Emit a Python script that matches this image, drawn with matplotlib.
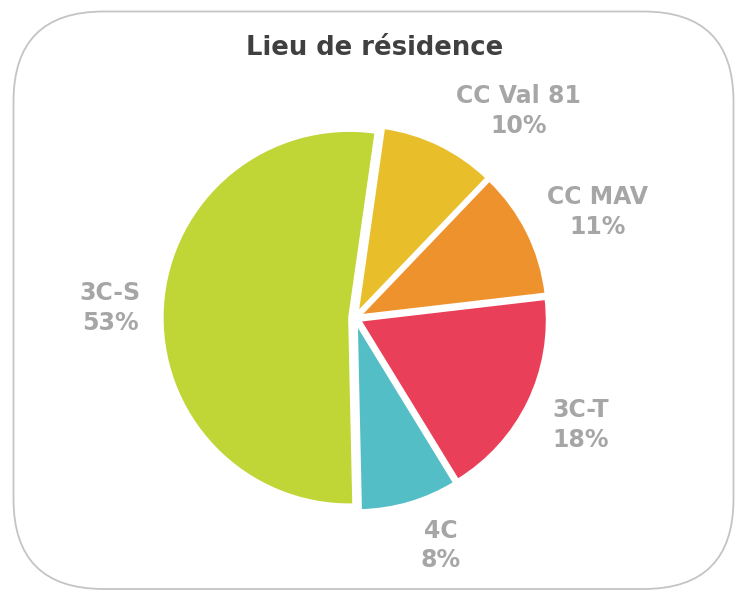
import matplotlib
matplotlib.use("Agg")
import matplotlib.pyplot as plt
from matplotlib.patches import FancyBboxPatch
import numpy as np

# Data
categories = ["CC Val 81", "CC MAV", "3C-T", "4C", "3C-S"]
values = [9.9, 11.0, 18.1, 8.4, 52.6]
colors = ["#e8bf2b", "#ee922d", "#ea3f58", "#53bec6", "#c0d536"]
title = "Lieu de résidence"

W, H = 735, 590
fig = plt.figure(figsize=(W / 100, H / 100), dpi=100)
fig.patch.set_facecolor("white")

# background axes in pixel units for the rounded frame
bg = fig.add_axes([0, 0, 1, 1], zorder=0)
bg.set_xlim(0, W)
bg.set_ylim(H, 0)
bg.axis("off")
frame = FancyBboxPatch((13.5, 11.5), 720, 577.5,
                       boxstyle="round,pad=0,rounding_size=90",
                       facecolor="white", edgecolor="#c4c4c4", linewidth=1.3)
bg.add_patch(frame)

R = 187.0
cx, cy = 355.0, H - 318.0
ax = fig.add_axes([0, 0, 1, 1], zorder=1)
ax.set_facecolor("none")

wedges, _ = ax.pie(values, colors=colors, startangle=81.9, counterclock=False,
                   explode=[0.03] * len(values),
                   wedgeprops=dict(edgecolor="white", linewidth=1.8))
ax.set_xlim(-cx / R, (W - cx) / R)
ax.set_ylim(-cy / R, (H - cy) / R)
ax.set_aspect("auto")
ax.axis("off")

# label placement (radial distance, angle offset from slice mid-angle)
label_dist = [1.41, 1.415, 1.335, 1.30, 1.31]
angle_off = [-12.4, -2.9, 0.6, 4.2, 1.0]
total = sum(values)
for w, cat, v, d, off in zip(wedges, categories, values, label_dist, angle_off):
    mid = np.deg2rad((w.theta1 + w.theta2) / 2 + off)
    ax.text(d * np.cos(mid), d * np.sin(mid), f"{cat}\n{v / total * 100:.0f}%",
            ha="center", va="center", fontsize=17, fontweight="bold",
            color="#a6a6a6", linespacing=1.3, family="DejaVu Sans")

ax.text((375 - cx) / R, (H - 48 - cy) / R, title, ha="center", va="center",
        fontsize=18.6, fontweight="bold", color="#404040", family="DejaVu Sans")

fig.savefig("out.png", dpi=100)
